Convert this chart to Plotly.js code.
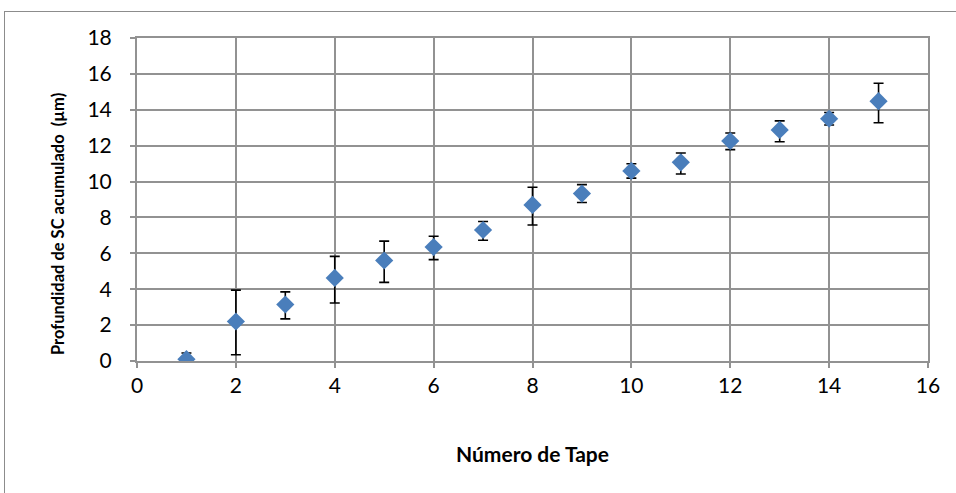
<!DOCTYPE html>
<html>
<head>
<meta charset="utf-8">
<script src="https://cdn.plot.ly/plotly-3.0.1.min.js"></script>
<style>
html,body{margin:0;padding:0;background:#fff;}
#frame{position:absolute;left:4px;top:11px;width:1000px;height:600px;border:1.5px solid #8c8c8c;box-sizing:border-box;}
#chart{position:absolute;left:0;top:0;width:956px;height:493px;}
</style>
</head>
<body>
<div id="frame"></div>
<div id="chart"></div>
<script>
var tapeNumber = [1, 2, 3, 4, 5, 6, 7, 8, 9, 10, 11, 12, 13, 14, 15];
var depth      = [0.1, 2.2, 3.15, 4.63, 5.6, 6.35, 7.3, 8.7, 9.33, 10.59, 11.07, 12.26, 12.88, 13.5, 14.48];
var errPlus    = [0.35, 1.75, 0.7, 1.2, 1.08, 0.6, 0.47, 0.98, 0.5, 0.4, 0.52, 0.45, 0.5, 0.35, 1.0];
var errMinus   = [0.35, 1.85, 0.8, 1.4, 1.22, 0.7, 0.57, 1.12, 0.5, 0.4, 0.65, 0.48, 0.66, 0.35, 1.2];
var xTicks = [0, 2, 4, 6, 8, 10, 12, 14, 16];
var yTicks = [0, 2, 4, 6, 8, 10, 12, 14, 16, 18];
var xTitle = 'Número de Tape';
var yTitle = 'Profundidad de SC acumulado  (µm)';

var trace = {
  x: tapeNumber,
  y: depth,
  type: 'scatter',
  mode: 'markers',
  marker: {symbol: 'diamond', size: 14, color: '#4a7ebb', line: {width: 0}},
  error_y: {type: 'data', symmetric: false, array: errPlus, arrayminus: errMinus,
            color: '#000000', thickness: 1.6, width: 5},
  hoverinfo: 'x+y'
};

var gridColor = '#929292';
var layout = {
  width: 956, height: 493,
  margin: {l: 137, r: 28, t: 38, b: 132},
  paper_bgcolor: 'rgba(0,0,0,0)',
  plot_bgcolor: 'rgba(0,0,0,0)',
  showlegend: false,
  font: {family: 'Lato, "Open Sans", sans-serif', color: '#000', size: 21},
  xaxis: {
    range: [0, 16], tickvals: xTicks, ticktext: xTicks.map(String),
    showgrid: true, gridcolor: gridColor, gridwidth: 2,
    showline: true, linecolor: gridColor, linewidth: 2, mirror: true,
    ticks: 'outside', ticklen: 5, tickcolor: gridColor, tickwidth: 2,
    zeroline: false, tickfont: {size: 21},
    title: {text: xTitle, font: {size: 21, weight: 'bold'}, standoff: 51}
  },
  yaxis: {
    range: [0, 18], tickvals: yTicks, ticktext: yTicks.map(String),
    showgrid: true, gridcolor: gridColor, gridwidth: 2,
    showline: true, linecolor: gridColor, linewidth: 2, mirror: true,
    ticks: 'outside', ticklen: 5, tickcolor: gridColor, tickwidth: 2,
    ticklabelstandoff: 14,
    zeroline: false, tickfont: {size: 21}
  },
  annotations: [{
    text: yTitle, textangle: -90, showarrow: false,
    xref: 'paper', yref: 'paper', x: -0.0999, y: 0.424,
    xanchor: 'center', yanchor: 'middle',
    font: {size: 16.5, weight: 'bold', color: '#000'}
  }]
};

Plotly.newPlot('chart', [trace], layout, {displayModeBar: false, staticPlot: true});
</script>
</body>
</html>
